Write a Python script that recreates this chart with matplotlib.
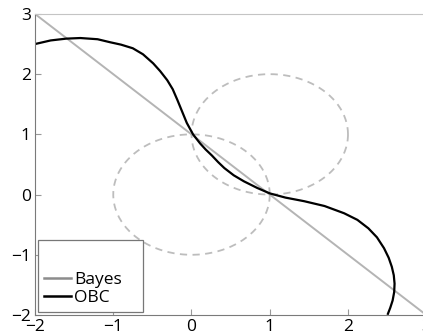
import numpy as np
import matplotlib.pyplot as plt
from matplotlib.lines import Line2D

# Bayes decision boundary (straight line)
bayes_x = [-2, 3]
bayes_y = [3, -2]

# OBC boundary
obc_x = [-2.00, -1.80, -1.60, -1.42, -1.20, -1.04, -0.90, -0.75, -0.62, -0.49, -0.40,
         -0.31, -0.24, -0.18, -0.12, -0.06, 0.02, 0.11, 0.18, 0.26, 0.34, 0.42, 0.54,
         0.67, 0.84, 1.00, 1.20, 1.44, 1.70, 1.95, 2.12, 2.26, 2.37, 2.46, 2.52, 2.56,
         2.585, 2.595, 2.59, 2.57, 2.54, 2.51]
obc_y = [2.50, 2.56, 2.59, 2.60, 2.58, 2.53, 2.49, 2.43, 2.33, 2.18, 2.05,
         1.90, 1.75, 1.57, 1.38, 1.19, 1.00, 0.85, 0.75, 0.65, 0.54, 0.44, 0.32,
         0.22, 0.11, 0.02, -0.05, -0.11, -0.19, -0.31, -0.42, -0.56, -0.71, -0.89, -1.05, -1.20,
         -1.34, -1.48, -1.62, -1.76, -1.88, -1.98]

# class contours (circles)
circ_cx = [0, 1]
circ_cy = [0, 1]
circ_r = [1, 1]

ticks = [-2, -1, 0, 1, 2, 3]
tick_labels = ['\u22122', '\u22121', '0', '1', '2', '3']

plt.rcParams['font.family'] = ['Open Sans', 'DejaVu Sans']
fig = plt.figure(figsize=(4.23, 3.36), dpi=100)
ax = fig.add_axes([0.0827, 0.0625, 0.925, 0.896])

t = np.linspace(0, 2 * np.pi, 200)
for cx, cy, r in zip(circ_cx, circ_cy, circ_r):
    ax.plot(cx + r * np.cos(t), cy + r * np.sin(t), '--', color='#bdbdbd', lw=1.3,
            dashes=(4, 3))

ax.plot(bayes_x, bayes_y, color='#b4b4b4', lw=1.4)
ax.plot(obc_x, obc_y, color='black', lw=1.6)

ax.set_xlim(-2, 3)
ax.set_ylim(-2, 3)
ax.set_xticks(ticks)
ax.set_yticks(ticks)
ax.set_xticklabels(tick_labels)
ax.set_yticklabels(tick_labels)
ax.tick_params(direction='in', length=4, labelsize=12.5, color='#999999', pad=3)

for s in ['left', 'bottom']:
    ax.spines[s].set_color('#7a7a7a')
for s in ['top', 'right']:
    ax.spines[s].set_color('#c4c4c4')

handles = [Line2D([], [], color='#8c8c8c', lw=1.8),
           Line2D([], [], color='black', lw=1.8)]
leg = ax.legend(handles, ['Bayes', 'OBC'], loc='lower left', fancybox=False,
                framealpha=1, edgecolor='#777777', fontsize=12.5, handlelength=1.6,
                handletextpad=0.15, labelspacing=0.1, borderpad=0.3,
                borderaxespad=0.2, title=' ' * 14, title_fontsize=18.5,
                alignment='left')
leg.get_frame().set_linewidth(0.9)

fig.savefig('out.png', dpi=100)
